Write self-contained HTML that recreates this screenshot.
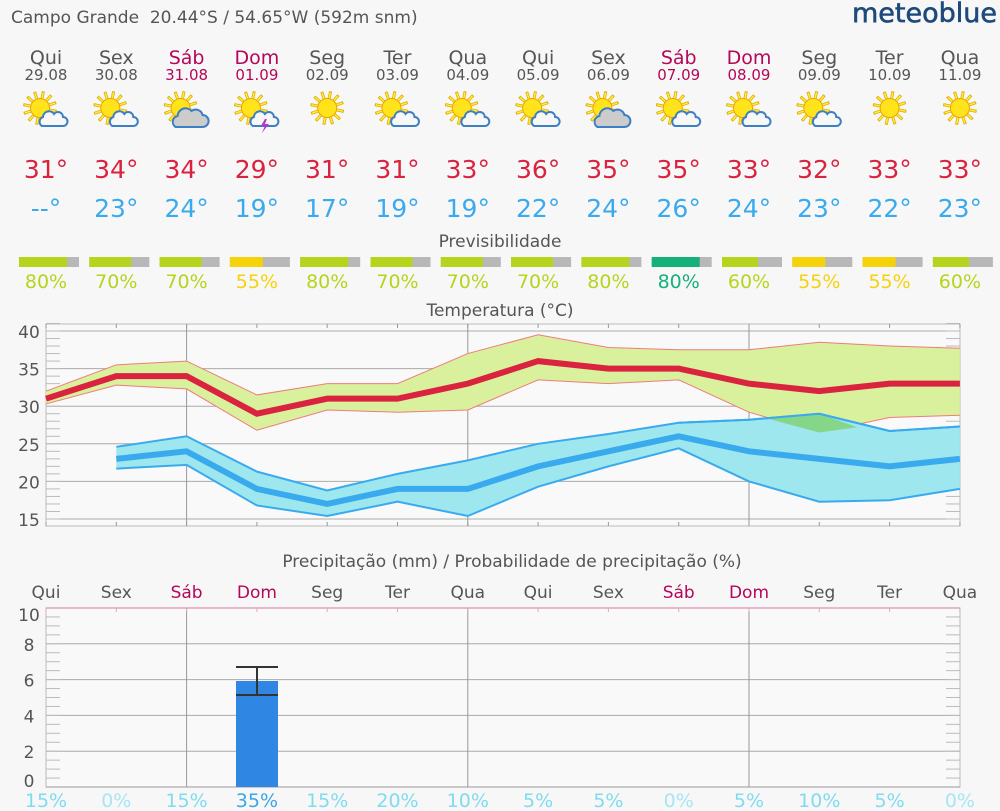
<!DOCTYPE html>
<html><head><meta charset="utf-8"><style>
body{margin:0;background:#f7f7f7;width:1000px;height:811px;overflow:hidden;font-family:"DejaVu Sans","Liberation Sans",sans-serif;}
svg{position:absolute;left:0;top:0}
</style></head><body>
<svg id="s" width="1000" height="811" xmlns="http://www.w3.org/2000/svg" font-family="DejaVu Sans, Liberation Sans, sans-serif">
<text x="11" y="23" font-size="17" fill="#555" xml:space="preserve" style="white-space:pre">Campo Grande  20.44°S / 54.65°W (592m snm)</text>
<text x="997" y="22" font-size="27" fill="#1d4a7a" text-anchor="end" stroke="#1d4a7a" stroke-width="0.6">meteoblue</text>
<g id="days" text-anchor="middle"></g>
<text x="500" y="247" font-size="17" fill="#555" text-anchor="middle">Previsibilidade</text>
<text x="500" y="316" font-size="17" fill="#555" text-anchor="middle">Temperatura (°C)</text>
<text x="512" y="567" font-size="17" fill="#555" text-anchor="middle">Precipitação (mm) / Probabilidade de precipitação (%)</text>
<g id="g"></g>
</svg>
<script>
var N='http://www.w3.org/2000/svg',s=document.getElementById('g'),D=document.getElementById('days');
function el(t,a,p){var e=document.createElementNS(N,t);for(var k in a)e.setAttribute(k,a[k]);(p||s).appendChild(e);return e}
function tx(x,y,str,fs,fill){var e=el('text',{x:x,y:y,'font-size':fs,fill:fill,'text-anchor':'middle'},D);e.textContent=str;return e}
var X=function(i){return 46+70.3*i};
var names=['Qui','Sex','Sáb','Dom','Seg','Ter','Qua','Qui','Sex','Sáb','Dom','Seg','Ter','Qua'];
var dates=['29.08','30.08','31.08','01.09','02.09','03.09','04.09','05.09','06.09','07.09','08.09','09.09','10.09','11.09'];
var wk=[0,0,1,1,0,0,0,0,0,1,1,0,0,0];
var mx=[31,34,34,29,31,31,33,36,35,35,33,32,33,33],mn=[null,23,24,19,17,19,19,22,24,26,24,23,22,23];
var pv=[80,70,70,55,80,70,70,70,80,80,60,55,55,60];
var pc=['#b6d41b','#b6d41b','#b6d41b','#f5d20a','#b6d41b','#b6d41b','#b6d41b','#b6d41b','#b6d41b','#16b07a','#b6d41b','#f5d20a','#f5d20a','#b6d41b'];
var icons=[1,1,2,3,0,1,1,1,2,1,1,1,0,0];
var pp=[15,0,15,35,15,20,10,5,5,0,5,10,5,0];
for(var i=0;i<14;i++){var x=X(i),c=wk[i]?'#b5065a':'#555';
tx(x,64,names[i],19,c);tx(x,80,dates[i],15,c);
tx(x,178,mx[i]+'°',25,'#d9233f');tx(x,217,(mn[i]==null?'--':mn[i])+'°',25,'#3aaaee');
el('rect',{x:x-27,y:257,width:60,height:10,fill:'#b8b8b8'});
el('rect',{x:x-27,y:257,width:60*pv[i]/100,height:10,fill:pc[i]});
tx(x,288,pv[i]+'%',19,pc[i]);
tx(x,598,names[i],17,c);
tx(x,807,pp[i]+'%',19,pp[i]==35?'#3ba6e8':(pp[i]==0?'#a6e6f3':'#7fdcef'));
var sx=x-6,sy=108,t=icons[i];if(t==0)sx=x;
var g=el('g',{});
for(var a=0;a<12;a++){var an=a*Math.PI/6+0.2;el('line',{x1:sx+Math.cos(an)*10,y1:sy+Math.sin(an)*10,x2:sx+Math.cos(an)*17,y2:sy+Math.sin(an)*17,stroke:'#e0b000','stroke-width':3},g);
el('line',{x1:sx+Math.cos(an)*10,y1:sy+Math.sin(an)*10,x2:sx+Math.cos(an)*16,y2:sy+Math.sin(an)*16,stroke:'#ffee40','stroke-width':1.4},g);}
el('circle',{cx:sx,cy:sy,r:9.5,fill:'#ffe41c',stroke:'#f0a000','stroke-width':1},g);
if(t>0){var cx=x+7,cy=119,big=t==2;
var d=big?'M'+(cx-18)+' '+(cy+8)+'a6 6 0 0 1 2-11a8 8 0 0 1 14-5a7 7 0 0 1 11 4a6 6 0 0 1 0 12z':'M'+(cx-11)+' '+(cy+7)+'a5 5 0 0 1 1-9a6 6 0 0 1 11-3a5 5 0 0 1 9 3a4.5 4.5 0 0 1 0 9z';
el('path',{d:d,fill:big?'#ccc':'#f7f7f7',stroke:'#3d7fc4','stroke-width':2},g);
if(t==3)el('path',{d:'M'+(cx+1)+' '+(cy)+'l-4 7h4l-3 7l7-9h-4l2-5z',fill:'#b535d0'},g);}
}
var L=46,R=960,T=324,B=526;function Y(v){return 519-(v-15)*7.52}
el('rect',{x:L,y:T,width:R-L,height:B-T,fill:'#f9f9f9',stroke:'#bbb'});
[15,20,25,30,35,40].forEach(function(v){el('line',{x1:L,x2:R,y1:Y(v),y2:Y(v),stroke:'#aaa','stroke-width':1});tx(29,Y(v)+7,v,17,'#555')});
for(var v=15;v<=41;v++){el('line',{x1:L,x2:L+14,y1:Y(v),y2:Y(v),stroke:'#bbb'});el('line',{x1:R-14,x2:R,y1:Y(v),y2:Y(v),stroke:'#bbb'});}
[2,6,10].forEach(function(i){el('line',{x1:X(i),x2:X(i),y1:T,y2:B,stroke:'#999'})});
for(var i=0;i<14;i++){el('line',{x1:X(i),x2:X(i),y1:T,y2:T+4,stroke:'#999'});el('line',{x1:X(i),x2:X(i),y1:B-4,y2:B,stroke:'#999'});}
var mu=[32,35.5,36,31.5,33,33,37,39.5,37.8,37.5,37.5,38.5,38,37.7],ml=[30.3,32.8,32.3,26.8,29.5,29.2,29.5,33.5,33,33.5,29.2,26.5,28.5,28.8];
var nu=[null,24.6,26,21.3,18.8,21,22.8,25,26.3,27.8,28.2,29,26.7,27.3],nl=[null,21.7,22.2,16.8,15.4,17.3,15.4,19.3,22,24.4,20,17.3,17.5,19];
function pts(a,s0){var r=[];for(var i=s0;i<14;i++)r.push(X(i)+','+Y(a[i]));return r}
function band(u,l,s0,f,st,sw){var p=pts(u,s0).concat(pts(l,s0).reverse());el('polygon',{points:p.join(' '),fill:f});
el('polyline',{points:pts(u,s0).join(' '),fill:'none',stroke:st,'stroke-width':sw});el('polyline',{points:pts(l,s0).join(' '),fill:'none',stroke:st,'stroke-width':sw});}
band(mu,ml,0,'#d9f09c','#ef7c7c',1);
band(nu,nl,1,'#9ee7ef','#3aaaee',2);
el('polygon',{points:X(10)+','+(Y(28.2)-1)+' '+X(11)+','+Y(29)+' '+(X(11)+38)+','+Y(27.2)+' '+X(11)+','+Y(26.5)+' '+(X(10)+20)+','+Y(28.3),fill:'#86d68a'});
el('polyline',{points:pts(nu,1).slice(8).join(' '),fill:'none',stroke:'#3aaaee','stroke-width':2});
el('polyline',{points:pts(mx,0).join(' '),fill:'none',stroke:'#d9233f','stroke-width':6});
el('polyline',{points:pts(mn,1).join(' '),fill:'none',stroke:'#3aaaee','stroke-width':6});
var PT=608,PB=787;function PY(v){return 787-v*17.9}
el('rect',{x:L,y:PT,width:R-L,height:PB-PT,fill:'#f9f9f9',stroke:'#bbb'});
el('line',{x1:L,x2:R,y1:PT,y2:PT,stroke:'#e6a3bd','stroke-width':1.5});
[0,2,4,6,8,10].forEach(function(v){if(v>0&&v<10)el('line',{x1:L,x2:R,y1:PY(v),y2:PY(v),stroke:'#aaa'});tx(29,PY(v)+(v==0?0:7)+(v==10?6:0),v,17,'#555')});
for(var v=0;v<=10;v+=0.5){el('line',{x1:L,x2:L+14,y1:PY(v),y2:PY(v),stroke:'#bbb'});el('line',{x1:R-14,x2:R,y1:PY(v),y2:PY(v),stroke:'#bbb'});}
[2,6,10].forEach(function(i){el('line',{x1:X(i),x2:X(i),y1:PT,y2:PB,stroke:'#999'})});
for(var i=0;i<14;i++){el('line',{x1:X(i),x2:X(i),y1:PT,y2:PT+4,stroke:'#e6a3bd'});}
el('line',{x1:L,x2:R,y1:PB,y2:PB,stroke:'#999'});
el('rect',{x:236,y:681,width:42,height:106,fill:'#2f86e3'});
el('line',{x1:257,x2:257,y1:667,y2:695,stroke:'#333','stroke-width':2});
el('line',{x1:236,x2:278,y1:667,y2:667,stroke:'#333','stroke-width':2});
el('line',{x1:236,x2:278,y1:695,y2:695,stroke:'#333','stroke-width':2});
</script>
</body></html>
